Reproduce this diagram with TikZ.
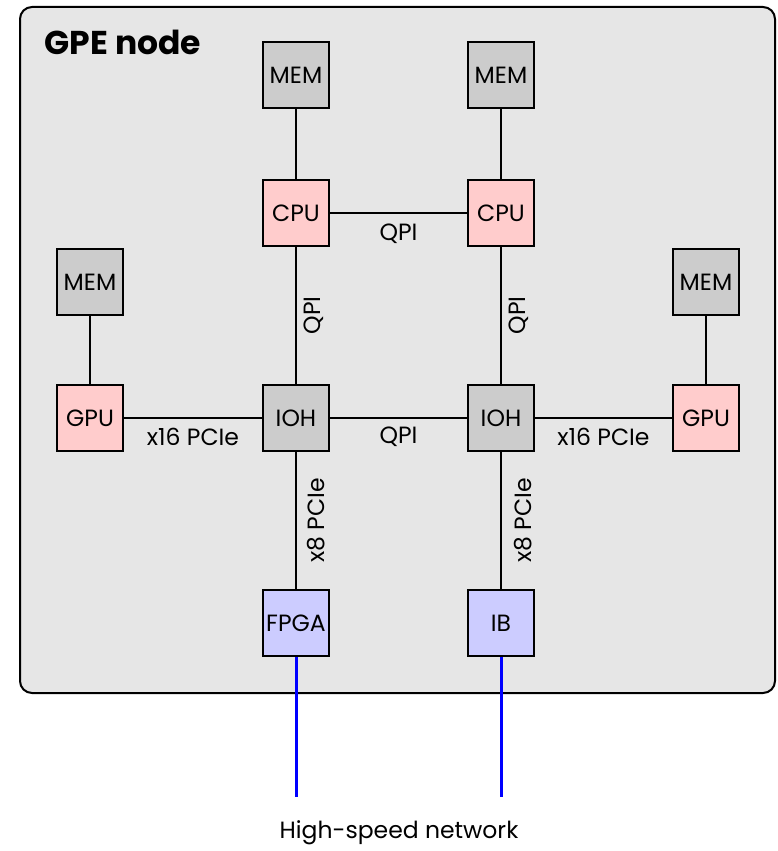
\documentclass[tikz,border=0pt]{standalone}
\usepackage{fontspec}
\setmainfont{Poppins}
\usetikzlibrary{positioning}
\definecolor{boardgray}{HTML}{E6E6E6}
\definecolor{memgray}{HTML}{CCCCCC}
\definecolor{procpink}{HTML}{FFCCCC}
\definecolor{nicblue}{HTML}{CCCCFF}

\begin{document}
\begin{tikzpicture}[
    x=1pt,y=1pt,
    font=\fontsize{23.5}{27}\selectfont,
    unit/.style={draw,line width=2pt,minimum width=66pt,minimum height=66pt,
      inner sep=0pt},
    memory/.style={unit,fill=memgray},
    processor/.style={unit,fill=procpink},
    netcard/.style={unit,fill=nicblue},
    link/.style={line width=2pt},
    uplink/.style={line width=3pt,blue},
    lbl/.style={inner sep=0pt}
  ]
    \useasboundingbox (0,0) rectangle (777,-851);
    \draw[line width=2pt,fill=boardgray,rounded corners=12pt] (20,-7) rectangle (775,-693);
    \node[anchor=north west,font=\fontsize{33}{37}\selectfont\bfseries] (title)
      at (41,-27) {GPE node};

    \node[processor] (cpuL) at (296,-213) {CPU};
    \node[processor,right=137pt of cpuL] (cpuR) {CPU};
    \node[memory,above=70pt of cpuL] (memTL) {MEM};
    \node[memory,above=70pt of cpuR] (memTR) {MEM};
    \node[memory,below=137pt of cpuL] (iohL) {IOH};
    \node[memory,below=137pt of cpuR] (iohR) {IOH};
    \node[processor,left=138pt of iohL] (gpuL) {GPU};
    \node[processor,right=137pt of iohR] (gpuR) {GPU};
    \node[memory,above=68pt of gpuL] (memL) {MEM};
    \node[memory,above=68pt of gpuR] (memR) {MEM};
    \node[netcard,below=137pt of iohL] (fpga) {FPGA};
    \node[netcard,below=137pt of iohR] (ib) {IB};

    \coordinate (netlevel) at (0,-797);
    \node (net) at (399,-833) {High-speed network};

    \draw[link] (memTL) -- (cpuL);
    \draw[link] (memTR) -- (cpuR);
    \draw[link] (memL) -- (gpuL);
    \draw[link] (memR) -- (gpuR);
    \draw[link] (cpuL) -- node[lbl,yshift=-21pt] {QPI} (cpuR);
    \draw[link] (cpuL) -- node[lbl,xshift=18pt,rotate=90] {QPI} (iohL);
    \draw[link] (cpuR) -- node[lbl,xshift=18pt,rotate=90] {QPI} (iohR);
    \draw[link] (iohL) -- node[lbl,yshift=-19pt] {QPI} (iohR);
    \draw[link] (gpuL) -- node[lbl,yshift=-19pt] {x16 PCIe} (iohL);
    \draw[link] (iohR) -- node[lbl,yshift=-19pt] {x16 PCIe} (gpuR);
    \draw[link] (iohL) -- node[lbl,xshift=20pt,rotate=90] {x8 PCIe} (fpga);
    \draw[link] (iohR) -- node[lbl,xshift=22pt,rotate=90] {x8 PCIe} (ib);

    \draw[uplink] (fpga.south) -- (fpga.south |- netlevel);
    \draw[uplink] (ib.south) -- (ib.south |- netlevel);
  \end{tikzpicture}
\end{document}
